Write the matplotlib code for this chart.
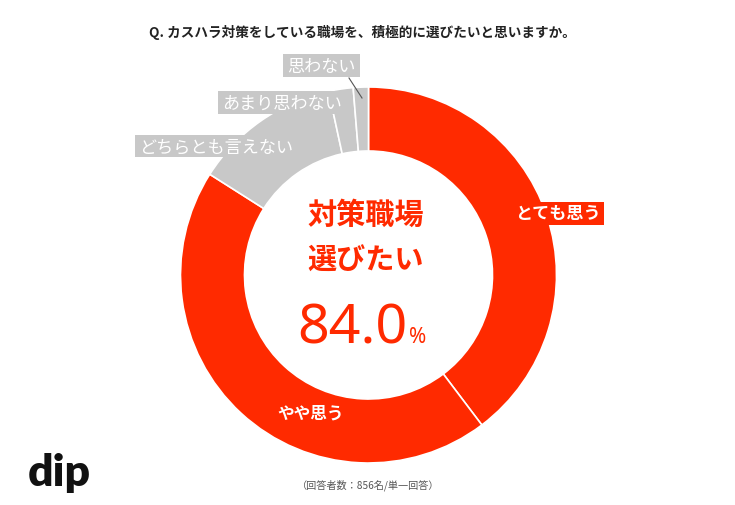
import matplotlib
matplotlib.use("Agg")
import matplotlib.pyplot as plt
from matplotlib.patches import Rectangle

plt.rcParams['font.family'] = ['Noto Sans CJK JP', 'DejaVu Sans']

# ── データ ─────────────────────────────────────────────
labels = ['とても思う', 'やや思う', 'どちらとも言えない', 'あまり思わない', '思わない']
values = [39.7, 44.3, 12.6, 2.1, 1.3]
colors = ['#ff2a00', '#ff2a00', '#c8c8c8', '#c8c8c8', '#c8c8c8']
headline = '84.0'
title = 'Q. カスハラ対策をしている職場を、積極的に選びたいと思いますか。'
note = '（回答者数：856名/単一回答）'

W, H = 735, 506
fig = plt.figure(figsize=(W / 100, H / 100), dpi=100)
ax = fig.add_axes([0, 0, 1, 1])

def Y(y):
    # 画像のピクセル座標(上から) → データ座標
    return H - y

cx, cy = 368.5, 276
r_out, r_in = 188, 124

ax.pie(values, colors=colors, startangle=90, counterclock=False,
       center=(cx, Y(cy)), radius=r_out,
       wedgeprops=dict(width=r_out - r_in, edgecolor='white', linewidth=1.2))
ax.set_xlim(0, W)
ax.set_ylim(0, H)
ax.set_aspect('equal')
ax.axis('off')

# ── ラベル ─────────────────────────────────────────────
def box_label(text, x0, x1, y0, y1, fc, weight='normal'):
    ax.add_patch(Rectangle((x0, Y(y1)), x1 - x0, y1 - y0, facecolor=fc,
                           edgecolor='none', zorder=5))
    ax.text((x0 + x1) / 2, Y((y0 + y1) / 2), text, color='white', fontsize=12.3,
            fontweight=weight, ha='center', va='center', zorder=6)

box_label(labels[0], 513, 604, 203, 226, colors[0], weight='bold')
box_label(labels[2], 135, 298, 136, 158, colors[2])
box_label(labels[3], 218, 347, 92, 115, colors[3])
box_label(labels[4], 283, 360, 55, 78, colors[4])

# 思わない の引き出し線
ax.plot([349, 362], [Y(79), Y(99)], color='#555555', lw=0.8, zorder=7)

ax.text(311, Y(414), labels[1], color='white', fontsize=12, fontweight='bold',
        ha='center', va='center', zorder=6)

# ── 中央テキスト ───────────────────────────────────────
red = '#ff2a00'
ax.text(366, Y(215), '対策職場', color=red, fontsize=21, fontweight='bold',
        ha='center', va='center')
ax.text(366, Y(261), '選びたい', color=red, fontsize=21, fontweight='bold',
        ha='center', va='center')
ax.text(408, Y(343), headline, color=red, fontsize=40, fontweight='medium',
        ha='right', va='baseline', family=['Noto Sans', 'DejaVu Sans'])
ax.text(409, Y(343), '%', color=red, fontsize=15, fontweight='medium',
        ha='left', va='baseline', family=['Noto Sans', 'DejaVu Sans'])

# ── タイトル・注記・ロゴ ───────────────────────────────
ax.text(362, Y(32), title, color='#222222', fontsize=9.8, fontweight='bold',
        ha='center', va='center')
ax.text(368, Y(485), note, color='#555555', fontsize=7.3, ha='center', va='center')
ax.text(28, Y(486), 'dip', color='#111111', fontsize=32, fontweight='heavy',
        ha='left', va='baseline', family=['Lato', 'DejaVu Sans'])

fig.savefig('out.png', dpi=100, facecolor='white')
